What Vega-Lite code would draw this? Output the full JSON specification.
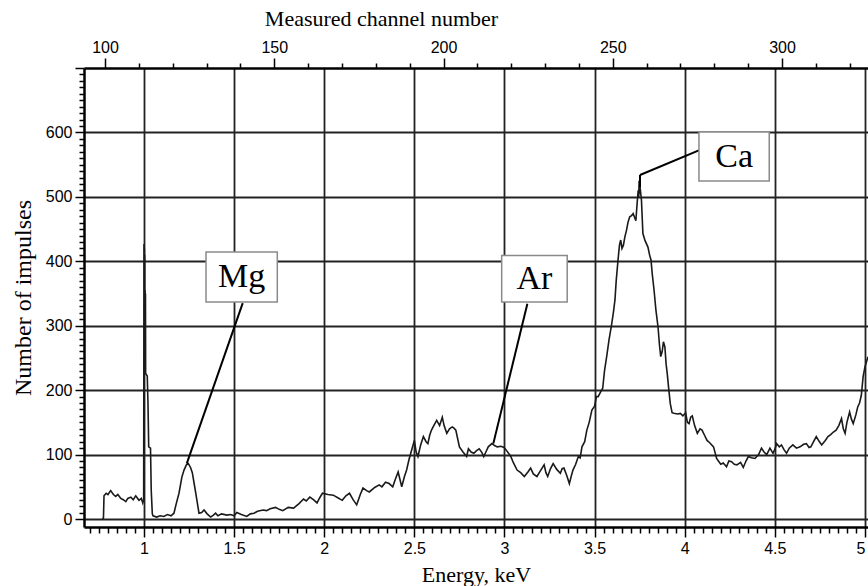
{
  "$schema": "https://vega.github.io/schema/vega-lite/v6.json",
  "width": 784,
  "height": 459,
  "autosize": "none",
  "padding": {"left": 84, "top": 68, "right": 0, "bottom": 59},
  "background": "white",
  "config": {
    "view": {"stroke": null},
    "axis": {
      "labelFont": "Liberation Sans",
      "labelFontSize": 16,
      "labelColor": "#000",
      "tickColor": "#000",
      "tickWidth": 1.5,
      "domainColor": "#000",
      "domainWidth": 2.5,
      "gridColor": "#222",
      "gridWidth": 1.8,
      "titleFont": "Liberation Serif",
      "titleFontWeight": "normal",
      "titleColor": "#000",
      "labelOverlap": false,
      "labelFlush": false
    }
  },
  "datasets": {
    "spectrum": [
      {"energy":0.770,"count":0},{"energy":0.775,"count":2},{"energy":0.778,"count":36},{"energy":0.79,"count":40},{"energy":0.80,"count":38},{"energy":0.815,"count":44},{"energy":0.83,"count":38},{"energy":0.843,"count":35},{"energy":0.855,"count":38},{"energy":0.871,"count":32},{"energy":0.885,"count":30},{"energy":0.899,"count":27},{"energy":0.91,"count":32},{"energy":0.927,"count":34},{"energy":0.94,"count":30},{"energy":0.954,"count":36},{"energy":0.962,"count":33},{"energy":0.972,"count":29},{"energy":0.985,"count":32},{"energy":0.993,"count":25},{"energy":0.998,"count":30},
      {"energy":1.000,"count":427},{"energy":1.001,"count":240},{"energy":1.002,"count":420},{"energy":1.003,"count":230},{"energy":1.004,"count":410},{"energy":1.005,"count":228},{"energy":1.006,"count":355},{"energy":1.007,"count":226},{"energy":1.008,"count":350},{"energy":1.009,"count":226},{"energy":1.018,"count":222},{"energy":1.022,"count":180},{"energy":1.026,"count":112},{"energy":1.036,"count":110},{"energy":1.040,"count":45},{"energy":1.046,"count":8},{"energy":1.05,"count":5},{"energy":1.07,"count":3},{"energy":1.09,"count":5},{"energy":1.11,"count":4},{"energy":1.13,"count":7},{"energy":1.15,"count":5},{"energy":1.166,"count":9},{"energy":1.18,"count":25},{"energy":1.194,"count":40},{"energy":1.21,"count":65},{"energy":1.222,"count":76},{"energy":1.235,"count":84},{"energy":1.246,"count":86},{"energy":1.258,"count":80},{"energy":1.268,"count":72},{"energy":1.28,"count":52},{"energy":1.29,"count":35},{"energy":1.305,"count":9},{"energy":1.32,"count":10},{"energy":1.333,"count":14},{"energy":1.35,"count":8},{"energy":1.37,"count":3},{"energy":1.385,"count":6},{"energy":1.397,"count":9},{"energy":1.41,"count":5},{"energy":1.43,"count":8},{"energy":1.46,"count":6},{"energy":1.48,"count":7},{"energy":1.50,"count":5},{"energy":1.515,"count":10},{"energy":1.54,"count":7},{"energy":1.57,"count":4},{"energy":1.59,"count":8},{"energy":1.61,"count":9},{"energy":1.63,"count":12},{"energy":1.66,"count":14},{"energy":1.68,"count":13},{"energy":1.70,"count":16},{"energy":1.73,"count":18},{"energy":1.75,"count":15},{"energy":1.77,"count":13},{"energy":1.80,"count":18},{"energy":1.83,"count":17},{"energy":1.86,"count":24},{"energy":1.885,"count":31},{"energy":1.90,"count":28},{"energy":1.92,"count":34},{"energy":1.94,"count":30},{"energy":1.96,"count":25},{"energy":1.975,"count":33},{"energy":1.99,"count":40},
      {"energy":2.02,"count":38},{"energy":2.05,"count":37},{"energy":2.075,"count":33},{"energy":2.10,"count":29},{"energy":2.12,"count":36},{"energy":2.14,"count":40},{"energy":2.16,"count":30},{"energy":2.18,"count":22},{"energy":2.20,"count":38},{"energy":2.215,"count":48},{"energy":2.235,"count":44},{"energy":2.25,"count":42},{"energy":2.28,"count":49},{"energy":2.305,"count":53},{"energy":2.32,"count":50},{"energy":2.34,"count":57},{"energy":2.36,"count":55},{"energy":2.38,"count":50},{"energy":2.395,"count":62},{"energy":2.41,"count":73},{"energy":2.43,"count":50},{"energy":2.445,"count":66},{"energy":2.457,"count":76},{"energy":2.47,"count":92},{"energy":2.485,"count":107},{"energy":2.50,"count":122},{"energy":2.51,"count":104},{"energy":2.52,"count":97},{"energy":2.535,"count":115},{"energy":2.55,"count":128},{"energy":2.565,"count":120},{"energy":2.575,"count":117},{"energy":2.585,"count":130},{"energy":2.595,"count":138},{"energy":2.61,"count":146},{"energy":2.624,"count":153},{"energy":2.64,"count":145},{"energy":2.655,"count":158},{"energy":2.665,"count":145},{"energy":2.68,"count":133},{"energy":2.695,"count":140},{"energy":2.71,"count":143},{"energy":2.72,"count":141},{"energy":2.73,"count":138},{"energy":2.74,"count":125},{"energy":2.75,"count":112},{"energy":2.77,"count":104},{"energy":2.79,"count":97},{"energy":2.80,"count":109},{"energy":2.815,"count":104},{"energy":2.83,"count":102},{"energy":2.845,"count":106},{"energy":2.86,"count":109},{"energy":2.875,"count":103},{"energy":2.885,"count":97},{"energy":2.90,"count":106},{"energy":2.91,"count":112},{"energy":2.93,"count":117},{"energy":2.945,"count":114},{"energy":2.96,"count":112},{"energy":2.98,"count":113},{"energy":2.998,"count":111},
      {"energy":3.015,"count":105},{"energy":3.035,"count":97},{"energy":3.05,"count":87},{"energy":3.07,"count":76},{"energy":3.09,"count":72},{"energy":3.11,"count":66},{"energy":3.13,"count":73},{"energy":3.145,"count":79},{"energy":3.16,"count":70},{"energy":3.18,"count":66},{"energy":3.20,"count":75},{"energy":3.22,"count":84},{"energy":3.23,"count":72},{"energy":3.24,"count":66},{"energy":3.255,"count":78},{"energy":3.27,"count":86},{"energy":3.29,"count":77},{"energy":3.31,"count":71},{"energy":3.32,"count":78},{"energy":3.33,"count":79},{"energy":3.345,"count":68},{"energy":3.36,"count":55},{"energy":3.37,"count":66},{"energy":3.38,"count":76},{"energy":3.395,"count":85},{"energy":3.41,"count":97},{"energy":3.42,"count":95},{"energy":3.43,"count":112},{"energy":3.445,"count":120},{"energy":3.457,"count":138},{"energy":3.47,"count":150},{"energy":3.485,"count":169},{"energy":3.50,"count":175},{"energy":3.51,"count":190},{"energy":3.52,"count":190},{"energy":3.535,"count":198},{"energy":3.545,"count":203},{"energy":3.555,"count":230},{"energy":3.567,"count":252},{"energy":3.58,"count":278},{"energy":3.595,"count":303},{"energy":3.605,"count":322},{"energy":3.613,"count":340},{"energy":3.62,"count":370},{"energy":3.63,"count":402},{"energy":3.638,"count":425},{"energy":3.645,"count":433},{"energy":3.652,"count":420},{"energy":3.66,"count":425},{"energy":3.668,"count":438},{"energy":3.677,"count":448},{"energy":3.685,"count":460},{"energy":3.695,"count":469},{"energy":3.705,"count":471},{"energy":3.714,"count":474},{"energy":3.722,"count":468},{"energy":3.729,"count":463},{"energy":3.736,"count":490},{"energy":3.742,"count":510},{"energy":3.745,"count":500},{"energy":3.747,"count":525},{"energy":3.749,"count":505},{"energy":3.75,"count":520},{"energy":3.755,"count":508},{"energy":3.76,"count":495},{"energy":3.768,"count":443},{"energy":3.78,"count":432},{"energy":3.796,"count":422},{"energy":3.805,"count":410},{"energy":3.813,"count":402},{"energy":3.82,"count":380},{"energy":3.83,"count":355},{"energy":3.84,"count":325},{"energy":3.852,"count":298},{"energy":3.86,"count":270},{"energy":3.867,"count":252},{"energy":3.875,"count":260},{"energy":3.882,"count":275},{"energy":3.89,"count":267},{"energy":3.897,"count":240},{"energy":3.903,"count":226},{"energy":3.912,"count":200},{"energy":3.92,"count":179},{"energy":3.93,"count":165},{"energy":3.94,"count":164},{"energy":3.96,"count":163},{"energy":3.976,"count":164},{"energy":3.99,"count":160},
      {"energy":4.005,"count":165},{"energy":4.015,"count":150},{"energy":4.024,"count":148},{"energy":4.033,"count":158},{"energy":4.042,"count":160},{"energy":4.055,"count":145},{"energy":4.07,"count":133},{"energy":4.085,"count":140},{"energy":4.096,"count":138},{"energy":4.11,"count":130},{"energy":4.124,"count":122},{"energy":4.14,"count":118},{"energy":4.16,"count":112},{"energy":4.177,"count":94},{"energy":4.19,"count":89},{"energy":4.20,"count":85},{"energy":4.214,"count":87},{"energy":4.232,"count":81},{"energy":4.245,"count":90},{"energy":4.26,"count":89},{"energy":4.275,"count":85},{"energy":4.29,"count":84},{"energy":4.31,"count":88},{"energy":4.325,"count":80},{"energy":4.34,"count":90},{"energy":4.353,"count":97},{"energy":4.37,"count":95},{"energy":4.39,"count":94},{"energy":4.41,"count":100},{"energy":4.426,"count":110},{"energy":4.44,"count":104},{"energy":4.455,"count":100},{"energy":4.473,"count":110},{"energy":4.49,"count":102},{"energy":4.50,"count":108},{"energy":4.51,"count":117},{"energy":4.525,"count":112},{"energy":4.537,"count":115},{"energy":4.55,"count":108},{"energy":4.565,"count":102},{"energy":4.58,"count":110},{"energy":4.60,"count":115},{"energy":4.62,"count":110},{"energy":4.64,"count":112},{"energy":4.66,"count":116},{"energy":4.675,"count":117},{"energy":4.69,"count":111},{"energy":4.70,"count":112},{"energy":4.715,"count":120},{"energy":4.73,"count":128},{"energy":4.745,"count":121},{"energy":4.76,"count":115},{"energy":4.78,"count":122},{"energy":4.795,"count":128},{"energy":4.81,"count":131},{"energy":4.825,"count":135},{"energy":4.84,"count":138},{"energy":4.855,"count":145},{"energy":4.87,"count":156},{"energy":4.88,"count":140},{"energy":4.89,"count":133},{"energy":4.90,"count":150},{"energy":4.915,"count":166},{"energy":4.925,"count":155},{"energy":4.935,"count":148},{"energy":4.95,"count":162},{"energy":4.96,"count":174},{"energy":4.97,"count":180},{"energy":4.98,"count":192},{"energy":4.99,"count":221},{"energy":5.00,"count":236},{"energy":5.017,"count":252}
    ],
    "boxes": [
      {"label":"Mg","x1":1.344,"x2":1.7395,"y1":337,"y2":414.4,"tx":1.542,"ty":375.7},
      {"label":"Ar","x1":2.9845,"x2":3.348,"y1":337,"y2":409,"tx":3.166,"ty":373},
      {"label":"Ca","x1":4.079,"x2":4.469,"y1":524.5,"y2":600.5,"tx":4.274,"ty":562.5}
    ],
    "connectors": [
      {"x1":1.5476,"y1":335,"x2":1.237,"y2":86},
      {"x1":3.127,"y1":334,"x2":2.938,"y2":117},
      {"x1":4.085,"y1":573,"x2":3.752,"y2":534},
      {"x1":3.752,"y1":534,"x2":3.752,"y2":515}
    ],
    "channels": [{"channel":100},{"channel":300}]
  },
  "layer": [
    {
      "data": {"name": "spectrum"},
      "mark": {"type": "line", "color": "#1a1a1a", "strokeWidth": 1.6, "interpolate": "linear"},
      "encoding": {
        "x": {
          "field": "energy", "type": "quantitative",
          "scale": {"domain": [0.667, 5.017], "nice": false, "zero": false},
          "axis": {
            "orient": "bottom",
            "title": "Energy, keV",
            "titleFontSize": 22,
            "titleX": 392,
            "titleY": 47,
            "titleBaseline": "middle",
            "titleAlign": "center",
            "values": [0.7,0.75,0.8,0.85,0.9,0.95,1,1.05,1.1,1.15,1.2,1.25,1.3,1.35,1.4,1.45,1.5,1.55,1.6,1.65,1.7,1.75,1.8,1.85,1.9,1.95,2,2.05,2.1,2.15,2.2,2.25,2.3,2.35,2.4,2.45,2.5,2.55,2.6,2.65,2.7,2.75,2.8,2.85,2.9,2.95,3,3.05,3.1,3.15,3.2,3.25,3.3,3.35,3.4,3.45,3.5,3.55,3.6,3.65,3.7,3.75,3.8,3.85,3.9,3.95,4,4.05,4.1,4.15,4.2,4.25,4.3,4.35,4.4,4.45,4.5,4.55,4.6,4.65,4.7,4.75,4.8,4.85,4.9,4.95,5],
            "format": "~g",
            "labelExpr": "abs(datum.value*2 - round(datum.value*2)) < 0.001 && datum.value >= 1 ? datum.label : ''",
            "labelAlign": {"condition": {"test": "datum.value >= 4.99", "value": "right"}, "value": "center"},
            "labelPadding": 3,
            "grid": true,
            "gridOpacity": {"condition": {"test": "abs(datum.value*2 - round(datum.value*2)) < 0.001", "value": 1}, "value": 0},
            "tickSize": {"condition": {"test": "abs(datum.value*2 - round(datum.value*2)) < 0.001", "value": 10}, "value": 6}
          }
        },
        "y": {
          "field": "count", "type": "quantitative",
          "scale": {"domain": [-12.4, 700], "nice": false, "zero": false},
          "axis": {
            "orient": "left",
            "title": "Number of impulses",
            "titleFontSize": 24,
            "titleX": -61,
            "titleY": 229.5,
            "titleBaseline": "middle",
            "titleAlign": "center",
            "values": [0,10,20,30,40,50,60,70,80,90,100,110,120,130,140,150,160,170,180,190,200,210,220,230,240,250,260,270,280,290,300,310,320,330,340,350,360,370,380,390,400,410,420,430,440,450,460,470,480,490,500,510,520,530,540,550,560,570,580,590,600,610,620,630,640,650,660,670,680,690,700],
            "labelExpr": "datum.value % 100 == 0 && datum.value <= 600 ? datum.label : ''",
            "labelPadding": 3,
            "grid": true,
            "gridOpacity": {"condition": {"test": "datum.value % 100 == 0 && datum.value <= 600", "value": 1}, "value": 0},
            "tickSize": {"condition": {"test": "datum.value % 100 == 0", "value": 9}, "value": 5}
          }
        }
      }
    },
    {
      "data": {"name": "connectors"},
      "mark": {"type": "rule", "color": "#000", "strokeWidth": 2},
      "encoding": {
        "x": {"field": "x1", "type": "quantitative", "scale": {"domain": [0.667, 5.017], "nice": false, "zero": false}, "axis": null},
        "x2": {"field": "x2"},
        "y": {"field": "y1", "type": "quantitative", "axis": null},
        "y2": {"field": "y2"}
      }
    },
    {
      "data": {"name": "boxes"},
      "mark": {"type": "rect", "fill": "#fff", "stroke": "#8a8a8a", "strokeWidth": 1.5},
      "encoding": {
        "x": {"field": "x1", "type": "quantitative", "scale": {"domain": [0.667, 5.017], "nice": false, "zero": false}, "axis": null},
        "x2": {"field": "x2"},
        "y": {"field": "y1", "type": "quantitative", "axis": null},
        "y2": {"field": "y2"}
      }
    },
    {
      "data": {"name": "boxes"},
      "mark": {"type": "text", "font": "Liberation Serif", "fontSize": 34, "color": "#000", "align": "center", "baseline": "middle"},
      "encoding": {
        "x": {"field": "tx", "type": "quantitative", "scale": {"domain": [0.667, 5.017], "nice": false, "zero": false}, "axis": null},
        "y": {"field": "ty", "type": "quantitative", "axis": null},
        "text": {"field": "label"}
      }
    },
    {
      "data": {"name": "channels"},
      "mark": {"type": "point", "opacity": 0},
      "encoding": {
        "x": {
          "field": "channel", "type": "quantitative",
          "scale": {"domain": [93.8, 325.4], "nice": false, "zero": false},
          "axis": {
            "orient": "top",
            "title": "Measured channel number",
            "titleFontSize": 22,
            "titleX": 297,
            "titleY": -50,
            "titleBaseline": "middle",
            "titleAlign": "center",
            "values": [100,110,120,130,140,150,160,170,180,190,200,210,220,230,240,250,260,270,280,290,300,310,320],
            "labelExpr": "datum.value % 50 == 0 ? datum.label : ''",
            "labelPadding": 3,
            "grid": false,
            "tickSize": {"condition": {"test": "datum.value % 50 == 0", "value": 10}, "value": 5}
          }
        }
      }
    }
  ],
  "resolve": {"scale": {"x": "independent"}, "axis": {"x": "independent", "y": "independent"}}
}
